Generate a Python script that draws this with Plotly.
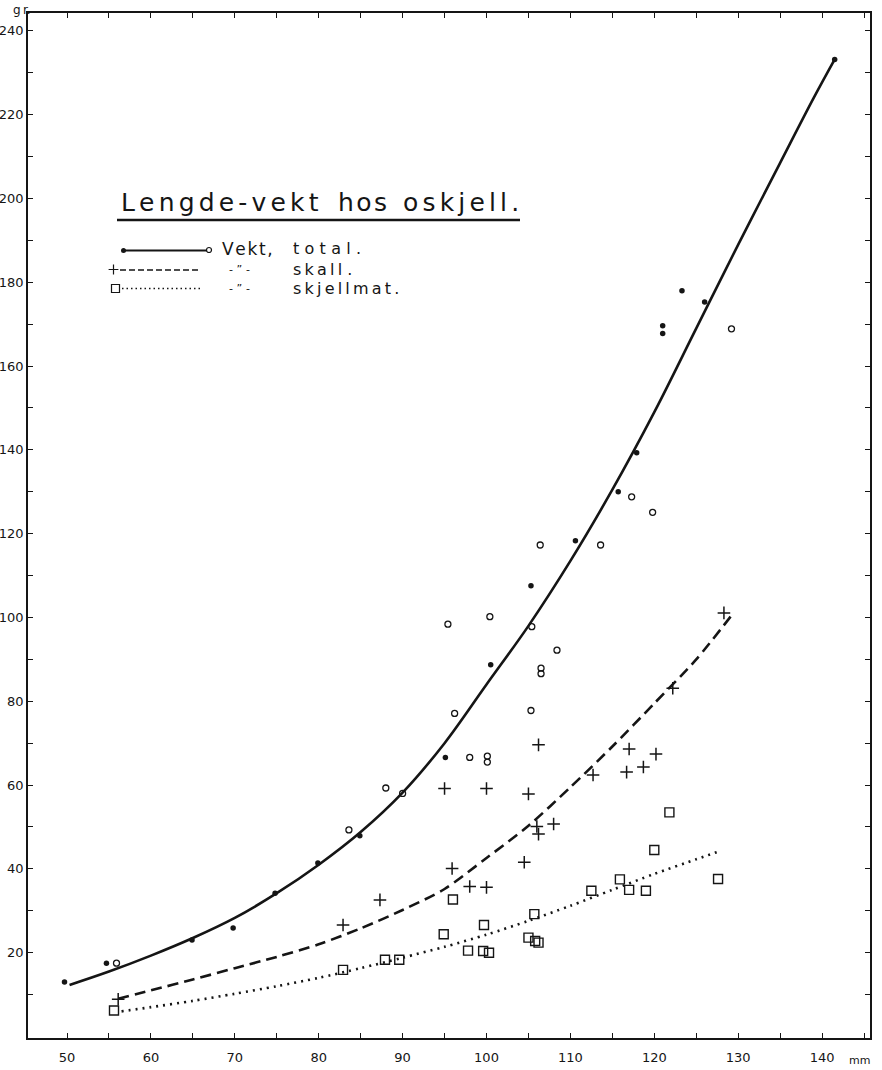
import plotly.graph_objects as go

# ---- Measurements: shell length (mm) and weight (g) ----
# Total weight, filled dots
total_len_a = [49.7, 54.7, 64.9, 69.8, 74.8, 79.9, 84.9, 95.1, 100.5, 105.3,
               110.6, 115.7, 117.9, 121.0, 121.0, 123.3, 126.0, 141.5]
total_wt_a = [13.0, 17.5, 23.0, 25.9, 34.2, 41.4, 47.9, 66.6, 88.7, 107.6,
              118.3, 130.0, 139.3, 169.6, 167.8, 178.0, 175.3, 233.2]
# Total weight, open circles
total_len_b = [55.9, 83.6, 88.0, 90.0, 95.4, 96.2, 98.0, 100.1, 100.1, 100.4,
               105.3, 105.4, 106.4, 106.5, 106.5, 108.4, 113.6, 117.3, 119.8, 129.2]
total_wt_b = [17.5, 49.3, 59.3, 58.0, 98.4, 77.1, 66.6, 66.9, 65.5, 100.2,
              77.8, 97.8, 117.3, 87.9, 86.6, 92.2, 117.3, 128.8, 125.1, 168.9]
# Shell weight
shell_len = [56.1, 82.9, 87.3, 95.0, 95.9, 98.0, 100.0, 100.0, 104.5, 105.0, 106.0,
             106.2, 106.2, 108.0, 112.7, 116.7, 117.0, 118.7, 120.2, 122.2, 128.3]
shell_wt = [8.9, 26.6, 32.6, 59.2, 40.1, 35.8, 59.2, 35.6, 41.6, 57.9, 50.1,
            48.3, 69.6, 50.7, 62.4, 63.1, 68.6, 64.3, 67.4, 83.1, 101.1]
# Meat weight
meat_len = [55.6, 82.9, 87.9, 89.6, 94.9, 96.0, 97.8, 99.7, 99.6, 100.3, 105.0,
            105.7, 105.8, 106.2, 112.5, 115.9, 117.0, 119.0, 120.0, 121.8, 127.6]
meat_wt = [6.2, 15.9, 18.3, 18.3, 24.4, 32.7, 20.5, 26.6, 20.4, 20.0, 23.6,
           29.2, 22.8, 22.4, 34.8, 37.5, 35.0, 34.8, 44.5, 53.5, 37.6]

# ---- Hand-fitted curves ----
fit_total_len = [50.3, 55, 60, 65, 70, 75, 80, 85, 90, 95, 100, 105, 110,
                 115, 120, 125, 130, 135, 139, 141.5]
fit_total_wt = [12.3, 15.5, 19.3, 23.5, 28.3, 34.2, 41.0, 48.8, 58.2, 70.0, 84.0,
                98.0, 113.5, 130.5, 149.0, 169.0, 189.0, 208.5, 224.0, 233.2]
fit_shell_len = [56.1, 60, 65, 70, 75, 80, 85, 90, 95, 100, 105, 110, 115,
                 120, 125, 129.4]
fit_shell_wt = [9.0, 11.0, 13.6, 16.3, 19.0, 22.0, 25.8, 30.2, 35.2, 42.6, 50.3,
                59.5, 69.2, 79.5, 90.0, 101.0]
fit_meat_len = [56.5, 60, 65, 70, 75, 80, 85, 90, 95, 100, 105, 110, 115, 120,
                125, 127.9]
fit_meat_wt = [6.0, 7.0, 8.5, 10.2, 12.0, 14.0, 16.3, 18.8, 21.4, 24.3, 27.6,
               31.2, 35.0, 38.8, 42.3, 44.3]

# ---- Axis ticks ----
x_ticks = list(range(50, 146, 5))
x_labels = [str(v) if v % 10 == 0 and v <= 140 else "" for v in x_ticks]
y_ticks = list(range(10, 241, 10))
y_labels = [str(v) if v % 20 == 0 else "" for v in y_ticks]

INK = "#151515"
FONT = "DejaVu Sans"
W, H = 882, 1070
L, R, T, B = 28, 12, 13, 32

fig = go.Figure()

# fitted curves
fig.add_trace(go.Scatter(x=fit_total_len, y=fit_total_wt, mode="lines",
                         line=dict(color=INK, width=2.6, shape="spline", smoothing=1.0),
                         hoverinfo="skip"))
fig.add_trace(go.Scatter(x=fit_shell_len, y=fit_shell_wt, mode="lines",
                         line=dict(color=INK, width=2.6, dash="11px,6px",
                                   shape="spline", smoothing=0.8),
                         hoverinfo="skip"))
fig.add_trace(go.Scatter(x=fit_meat_len, y=fit_meat_wt, mode="lines",
                         line=dict(color=INK, width=2.6, dash="2px,5px",
                                   shape="spline", smoothing=0.8),
                         hoverinfo="skip"))

# measured points
fig.add_trace(go.Scatter(x=total_len_a, y=total_wt_a, mode="markers",
                         marker=dict(symbol="circle", size=5.5, color=INK)))
fig.add_trace(go.Scatter(x=total_len_b, y=total_wt_b, mode="markers",
                         marker=dict(symbol="circle-open", size=6,
                                     color=INK, line=dict(width=1.3, color=INK))))
fig.add_trace(go.Scatter(x=shell_len, y=shell_wt, mode="markers",
                         marker=dict(symbol="cross-thin-open", size=9, color=INK,
                                     line=dict(width=1.5, color=INK))))
fig.add_trace(go.Scatter(x=meat_len, y=meat_wt, mode="markers",
                         marker=dict(symbol="square-open", size=9, color=INK,
                                     line=dict(width=1.4, color=INK))))


# ---- Key, drawn on a pixel-space overlay ----
def px2x(px):
    return (px - L) / (W - L - R)


def px2y(py):
    return (H - B - py) / (H - T - B)


KEY = dict(xaxis="x2", yaxis="y2", hoverinfo="skip")
fig.add_trace(go.Scatter(x=[123.5, 207], y=[250.5, 250.5], mode="lines",
                         line=dict(color=INK, width=2), **KEY))
fig.add_trace(go.Scatter(x=[123.5], y=[250.5], mode="markers",
                         marker=dict(symbol="circle", size=5, color=INK), **KEY))
fig.add_trace(go.Scatter(x=[209], y=[250], mode="markers",
                         marker=dict(symbol="circle-open", size=5, color=INK,
                                     line=dict(width=1.2, color=INK)), **KEY))
fig.add_trace(go.Scatter(x=[120, 201], y=[270, 270], mode="lines",
                         line=dict(color=INK, width=1.5, dash="6px,3px"), **KEY))
fig.add_trace(go.Scatter(x=[113.5], y=[269.5], mode="markers",
                         marker=dict(symbol="cross-thin-open", size=7, color=INK,
                                     line=dict(width=1.2, color=INK)), **KEY))
fig.add_trace(go.Scatter(x=[122, 201], y=[288.5, 288.5], mode="lines",
                         line=dict(color=INK, width=1.5, dash="1.5px,3px"), **KEY))
fig.add_trace(go.Scatter(x=[115.5], y=[288.5], mode="markers",
                         marker=dict(symbol="square-open", size=8, color=INK,
                                     line=dict(width=1.2, color=INK)), **KEY))


def spaced(word, gap="\u2009"):
    return gap.join(word)


def label(px, py, text, size, anchor="left"):
    fig.add_annotation(x=px2x(px), y=px2y(py), xref="paper", yref="paper",
                       text=text, showarrow=False, xanchor=anchor, yanchor="middle",
                       borderpad=0, font=dict(family=FONT, size=size, color=INK))


# title, letter-spaced word by word
label(120, 202, spaced("Lengde-vekt", "\u2006"), 25)
label(337, 202, spaced("hos", "\u200a"), 25)
label(402, 202, spaced("oskjell.", "\u2006"), 25)
fig.add_shape(type="line", xref="paper", yref="paper",
              x0=px2x(117), x1=px2x(520), y0=px2y(220), y1=px2y(220),
              line=dict(color=INK, width=2.6))

# key texts
DITTO = "-\u2004\u201d\u2004-"
label(221, 249, spaced("Vekt,", "\u200a"), 17)
label(292, 249, spaced("total.", "\u2004"), 16)
label(228, 269, DITTO, 11)
label(292, 269, spaced("skall", "\u2009") + "\u2004.", 16)
label(228, 288, DITTO, 11)
label(292, 288, spaced("skjellmat.", "\u2009"), 16)

# unit labels
label(859, 1060, "mm", 11, anchor="center")
label(22, 10, "g\u2009r.", 12, anchor="center")

axis_common = dict(showline=True, linecolor=INK, linewidth=1.8, mirror="allticks",
                   ticks="inside", tickcolor=INK, tickwidth=1.2, showgrid=False,
                   zeroline=False, tickmode="array", automargin=False,
                   tickfont=dict(family=FONT, size=13, color=INK))

fig.update_layout(
    width=W, height=H,
    margin=dict(l=L, r=R, t=T, b=B, autoexpand=False),
    paper_bgcolor="white", plot_bgcolor="white",
    showlegend=False,
    xaxis=dict(range=[45.35, 145.71], tickvals=x_ticks, ticktext=x_labels,
               ticklen=5, ticklabelstandoff=6, **axis_common),
    yaxis=dict(range=[-0.36, 244.27], tickvals=y_ticks, ticktext=y_labels,
               ticklen=5, ticklabelstandoff=0, **axis_common),
    xaxis2=dict(overlaying="x", range=[L, W - R], visible=False),
    yaxis2=dict(overlaying="y", range=[H - B, T], visible=False),
)

fig.write_html("out.html")
